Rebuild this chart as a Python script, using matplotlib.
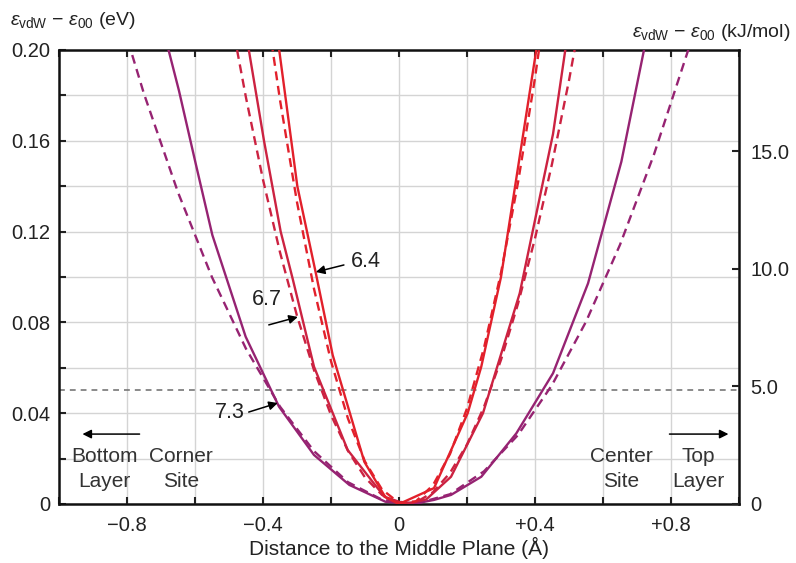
import matplotlib
matplotlib.use("Agg")
import matplotlib.pyplot as plt
from matplotlib.ticker import MultipleLocator, FixedLocator

plt.rcParams["font.family"] = ["Liberation Sans", "DejaVu Sans"]
plt.rcParams["mathtext.fontset"] = "custom"
plt.rcParams["mathtext.rm"] = "Liberation Sans"
plt.rcParams["mathtext.it"] = "Liberation Sans:italic"

# --- data (x in Angstrom, y in eV) ---
# solid curves (computed energies)
x64 = [-0.355, -0.299, -0.245, -0.195, -0.102, -0.040, 0.000, 0.103, 0.202, 0.242, 0.300, 0.410]
y64 = [0.203, 0.140, 0.102, 0.0656, 0.0186, 0.0030, 0.0, 0.0070, 0.040, 0.0605, 0.1000, 0.206]

x67 = [-0.445, -0.397, -0.348, -0.313, -0.250, -0.151, -0.043, 0.020, 0.080, 0.153, 0.247, 0.355, 0.453, 0.492]
y67 = [0.203, 0.160, 0.120, 0.0994, 0.0605, 0.0238, 0.0032, 0.0, 0.002, 0.012, 0.040, 0.0928, 0.163, 0.203]

x73 = [-0.700, -0.647, -0.598, -0.549, -0.451, -0.353, -0.250, -0.146, -0.040, 0.040, 0.103, 0.153, 0.242, 0.345, 0.453, 0.556, 0.654, 0.730]
y73 = [0.213, 0.182, 0.150, 0.1185, 0.0737, 0.0429, 0.0216, 0.0084, 0.0010, 0.0, 0.0018, 0.0040, 0.0120, 0.0311, 0.0576, 0.0972, 0.1508, 0.207]

# dashed curves (harmonic fits)
xd64 = [-0.40, -0.35, -0.30, -0.25, -0.20, -0.15, -0.10, -0.05, 0.00, 0.05, 0.10, 0.15, 0.20, 0.25, 0.30, 0.35, 0.40, 0.45]
yd64 = [0.229, 0.178, 0.133, 0.0948, 0.0629, 0.0376, 0.0187, 0.0064, 0.0005, 0.0012, 0.0083, 0.0220, 0.0421, 0.0688, 0.1019, 0.1416, 0.1877, 0.2404]

xd67 = [-0.50, -0.45, -0.40, -0.35, -0.30, -0.25, -0.20, -0.15, -0.10, -0.05, 0.00, 0.05, 0.10, 0.15, 0.20, 0.25, 0.30, 0.35, 0.40, 0.45, 0.50, 0.55]
yd67 = [0.219, 0.179, 0.1429, 0.1109, 0.0829, 0.0590, 0.0392, 0.0234, 0.0117, 0.0040, 0.0003, 0.0007, 0.0052, 0.0137, 0.0262, 0.0428, 0.0635, 0.0882, 0.1170, 0.1498, 0.1866, 0.2275]

xd73 = [-0.85, -0.75, -0.65, -0.55, -0.45, -0.35, -0.25, -0.15, -0.05, 0.05, 0.15, 0.25, 0.35, 0.45, 0.55, 0.65, 0.75, 0.85, 0.95]
yd73 = [0.230, 0.1807, 0.1373, 0.0999, 0.0684, 0.0429, 0.0233, 0.0096, 0.0019, 0.0001, 0.0043, 0.0144, 0.0304, 0.0524, 0.0803, 0.1142, 0.1540, 0.1997, 0.2514]

xticks = [-0.8, -0.4, 0, 0.4, 0.8]
xticklabels = ["\u22120.8", "\u22120.4", "0", "+0.4", "+0.8"]
yticks = [0, 0.04, 0.08, 0.12, 0.16, 0.20]
yticklabels = ["0", "0.04", "0.08", "0.12", "0.16", "0.20"]
kj_ticks = [0, 5, 10, 15]
kj_labels = ["0", "5.0", "10.0", "15.0"]

EV_TO_KJ = 96.485
threshold = 0.05

c64 = "#e2202b"
c67 = "#cc2241"
c73 = "#962372"
txt = "#222222"

fig = plt.figure(figsize=(7.96, 5.63), dpi=100)
ax = fig.add_axes([0.0741, 0.1048, 0.8543, 0.8064])

dash = (0, (3.8, 2.4))
lw = 1.7
ax.plot(x73, y73, color=c73, lw=lw, zorder=3)
ax.plot(xd73, yd73, color=c73, lw=lw, ls=dash, zorder=3)
ax.plot(x67, y67, color=c67, lw=lw, zorder=4)
ax.plot(xd67, yd67, color=c67, lw=lw, ls=dash, zorder=4)
ax.plot(x64, y64, color=c64, lw=lw, zorder=5)
ax.plot(xd64, yd64, color=c64, lw=lw, ls=dash, zorder=5)

ax.axhline(threshold, color="#777777", lw=1.2, ls=(0, (3.5, 3)), zorder=2)

ax.set_xlim(-1, 1)
ax.set_ylim(0, 0.2)

ax.xaxis.set_major_locator(FixedLocator(xticks))
ax.xaxis.set_minor_locator(MultipleLocator(0.2))
ax.set_xticklabels(xticklabels)
ax.yaxis.set_major_locator(FixedLocator(yticks))
ax.yaxis.set_minor_locator(MultipleLocator(0.02))
ax.set_yticklabels(yticklabels)

ax.grid(True, which="both", color="#d4d4d4", lw=1.0, zorder=0)
ax.set_axisbelow(True)
ax.tick_params(which="both", direction="in", length=5, width=1.5,
               top=True, right=False, colors="#222222", labelsize=14.5)
ax.tick_params(axis="x", pad=9)
ax.tick_params(axis="y", pad=6)
for s in ax.spines.values():
    s.set_linewidth(1.8)
    s.set_color("#111111")

ax2 = ax.twinx()
ax2.set_ylim(0, 0.2 * EV_TO_KJ)
ax2.set_yticks(kj_ticks)
ax2.set_yticklabels(kj_labels)
ax2.tick_params(direction="in", length=5, width=1.5, labelsize=14.5, pad=8,
                colors="#222222")
for s in ax2.spines.values():
    s.set_visible(False)

ax.set_xlabel("Distance to the Middle Plane (\u00c5)", fontsize=15, color=txt, labelpad=1)

fig.text(0.012, 0.963, "$\\varepsilon_{\\mathrm{vdW}}$ \u2212 $\\varepsilon_{00}$ (eV)",
         fontsize=14, color=txt, ha="left", va="center")
fig.text(0.993, 0.942, "$\\varepsilon_{\\mathrm{vdW}}$ \u2212 $\\varepsilon_{00}$ (kJ/mol)",
         fontsize=14, color=txt, ha="right", va="center")

arrow = dict(arrowstyle="-|>", color="black", lw=1.1, mutation_scale=13, shrinkA=0, shrinkB=0)
labels = ["6.4", "6.7", "7.3"]
label_xy = [(-0.097, 0.107), (-0.389, 0.0899), (-0.498, 0.0401)]
tails = [(-0.162, 0.1053), (-0.383, 0.0789), (-0.442, 0.0405)]
heads = [(-0.2445, 0.1022), (-0.2976, 0.0824), (-0.3565, 0.0445)]
for lab, p, t, h in zip(labels, label_xy, tails, heads):
    ax.text(p[0], p[1], lab, fontsize=15.5, color=txt, ha="center", va="center", zorder=6)
    ax.annotate("", xy=h, xytext=t, arrowprops=arrow, zorder=6)

ax.annotate("", xy=(-0.931, 0.0308), xytext=(-0.763, 0.0308), arrowprops=arrow)
ax.annotate("", xy=(0.969, 0.0308), xytext=(0.7955, 0.0308), arrowprops=arrow)
side_text = ["Bottom\nLayer", "Corner\nSite", "Center\nSite", "Top\nLayer"]
side_x = [-0.866, -0.642, 0.654, 0.881]
for s, xx in zip(side_text, side_x):
    ax.text(xx, 0.0155, s, fontsize=15, color="#333333", ha="center", va="center",
            linespacing=1.42, zorder=6)

fig.savefig("out.png", dpi=100)
